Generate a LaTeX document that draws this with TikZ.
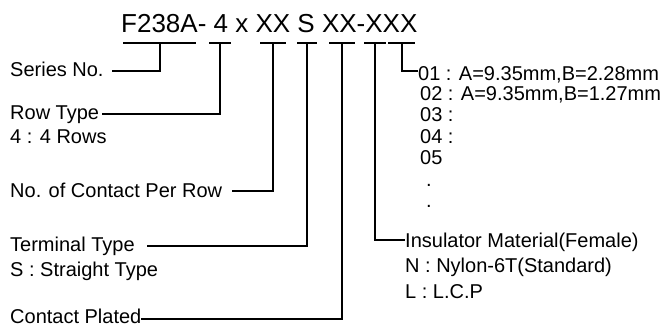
\documentclass[tikz,border=0pt]{standalone}
\usepackage{fontspec}
\setmainfont{Liberation Sans}
\begin{document}
\begin{tikzpicture}[x=1pt,y=-1pt,
  lbl/.style={anchor=base west, inner sep=0pt, font=\fontsize{20}{24}\selectfont},
  ttl/.style={anchor=base west, inner sep=0pt, font=\fontsize{26}{30}\selectfont},
  conn/.style={line width=1.2pt, line cap=rect}]
\useasboundingbox[fill=white] (0,0) rectangle (662,327);
% code title
\node[ttl] (title) at (121,32) {F238A- 4 x XX S XX-XXX};
% bracket centres under the code fields
\coordinate (t1) at (160,43);
\coordinate (t2) at (220,43);
\coordinate (t3) at (273,43);
\coordinate (t4) at (307,43);
\coordinate (t5) at (342,43);
\coordinate (t6) at (375,43);
\coordinate (t7) at (402,43);
\draw[conn] ([xshift=-36pt]t1) -- ([xshift=35pt]t1);
\draw[conn] ([xshift=-10pt]t2) -- ([xshift=10pt]t2);
\draw[conn] ([xshift=-12pt]t3) -- ([xshift=12pt]t3);
\draw[conn] ([xshift=-9pt]t4) -- ([xshift=9pt]t4);
\draw[conn] ([xshift=-12pt]t5) -- ([xshift=12pt]t5);
\draw[conn] ([xshift=-10pt]t6) -- ([xshift=10pt]t6);
\draw[conn] ([xshift=-13pt]t7) -- ([xshift=12pt]t7);
% left labels
\node[lbl] (series) at (10,76) {Series No.};
\node[lbl] (rowtype) at (10,119) {Row Type};
\node[lbl] (rows) at (10,143) {4 : 4 Rows};
\node[lbl] (contact) at (10,197) {No. of Contact Per Row};
\node[lbl] (terminal) at (10,251) {Terminal Type};
\node[lbl] (straight) at (10,276) {S : Straight Type};
\node[lbl] (plated) at (10,323) {Contact Plated};
% right labels
\node[lbl] (o1) at (418,80) {01 : A=9.35mm,B=2.28mm};
\node[lbl] (o2) at (420,100) {02 : A=9.35mm,B=1.27mm};
\node[lbl] (o3) at (420,121) {03 :};
\node[lbl] (o4) at (420,143) {04 :};
\node[lbl] (o5) at (420,164) {05};
\node[lbl] (d1) at (426,186) {.};
\node[lbl] (d2) at (426,207) {.};
\node[lbl] (insul) at (405,247) {Insulator Material(Female)};
\node[lbl] (nylon) at (405,272) {N : Nylon-6T(Standard)};
\node[lbl] (lcp) at (405,298) {L : L.C.P};
% connector start points
\coordinate (c1) at (113,71);
\coordinate (c2) at (103,114);
\coordinate (c3) at (233,191);
\coordinate (c4) at (148,246);
\coordinate (c5) at (142,319);
\coordinate (c6) at (404,240);
\coordinate (c7) at (417,71);
% connectors
\draw[conn] (c1) -| (t1);
\draw[conn] (c2) -| (t2);
\draw[conn] (c3) -| (t3);
\draw[conn] (c4) -| (t4);
\draw[conn] (c5) -| (t5);
\draw[conn] (c6) -| (t6);
\draw[conn] (c7) -| (t7);
\end{tikzpicture}
\end{document}
